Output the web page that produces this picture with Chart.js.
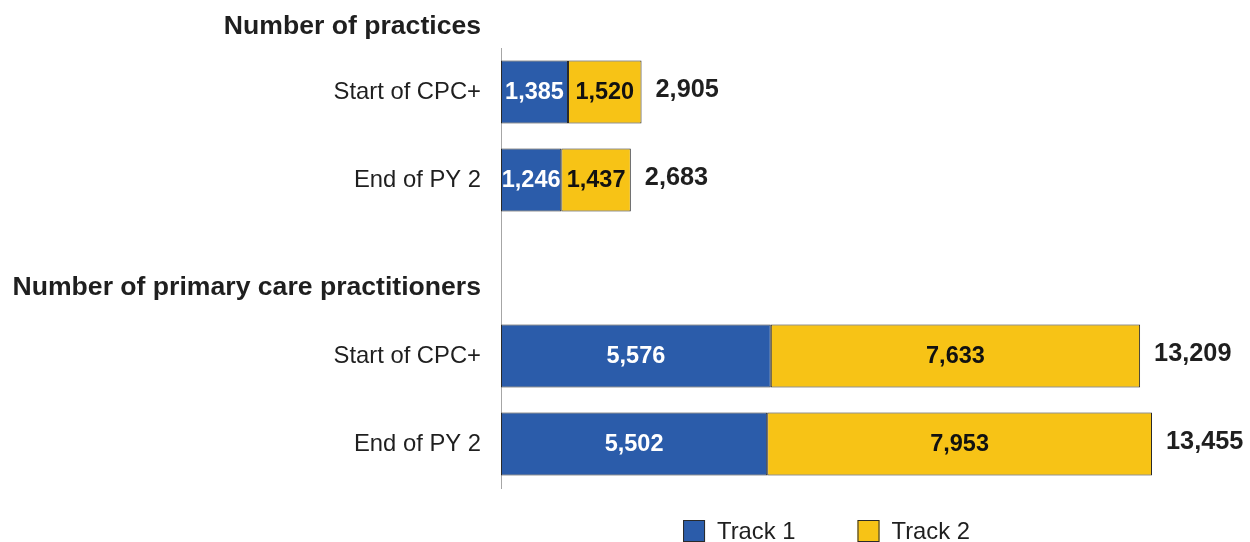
<!DOCTYPE html>
<html>
<head>
<meta charset="utf-8">
<script src="https://cdn.jsdelivr.net/npm/chart.js@4"></script>
<style>
  html, body { margin: 0; padding: 0; background: #ffffff; overflow: hidden; }
  #wrap { width: 1250px; height: 542px; position: relative; }
</style>
</head>
<body>
<div id="wrap"><canvas id="c"></canvas></div>
<script>
// ---- data ----
const categories = ['Start of CPC+', 'End of PY 2', '', 'Start of CPC+', 'End of PY 2'];
const groupHeaders = ['Number of practices', 'Number of primary care practitioners'];
const track1 = [1385, 1246, null, 5576, 5502];
const track2 = [1520, 1437, null, 7633, 7953];
const seriesNames = ['Track 1', 'Track 2'];

// ---- styles ----
const FONT = '"Liberation Sans", Arial, Helvetica, sans-serif';
const BLUE = '#2b5caa';
const YELLOW = '#f7c316';
const EDGE = '#2a2a2a';
const TEXT = '#1f1f1f';

const totals = track1.map((v, i) => (v == null ? null : v + track2[i]));
const maxTotal = Math.max(...totals.filter(v => v != null));
const fmt = v => v.toLocaleString('en-US');

const overlay = {
  id: 'overlay',
  afterDatasetsDraw(chart) {
    const ctx = chart.ctx;
    const area = chart.chartArea;
    const y = chart.scales.y;
    ctx.save();
    // segment labels
    chart.data.datasets.forEach((ds, di) => {
      const meta = chart.getDatasetMeta(di);
      meta.data.forEach((bar, i) => {
        const v = ds.data[i];
        if (v == null) return;
        ctx.font = 'bold 23.5px ' + FONT;
        ctx.fillStyle = di === 0 ? '#ffffff' : '#111111';
        ctx.textAlign = 'center';
        ctx.textBaseline = 'middle';
        ctx.fillText(fmt(v), (bar.x + bar.base) / 2, bar.y + 1);
      });
    });
    // totals
    const lastMeta = chart.getDatasetMeta(chart.data.datasets.length - 1);
    lastMeta.data.forEach((bar, i) => {
      if (totals[i] == null) return;
      ctx.font = 'bold 25.3px ' + FONT;
      ctx.fillStyle = TEXT;
      ctx.textAlign = 'left';
      ctx.textBaseline = 'middle';
      ctx.fillText(fmt(totals[i]), bar.x + 14, bar.y - 2);
    });
    // group headers
    const step = y.getPixelForValue(1) - y.getPixelForValue(0);
    ctx.font = 'bold 26.6px ' + FONT;
    ctx.fillStyle = TEXT;
    ctx.textAlign = 'right';
    ctx.textBaseline = 'middle';
    ctx.fillText(groupHeaders[0], area.left - 20, y.getPixelForValue(0) - 0.74 * step);
    ctx.fillText(groupHeaders[1], area.left - 20, y.getPixelForValue(2) + 0.22 * step);
    // legend
    ctx.font = '23.8px ' + FONT;
    const box = 22, gapBT = 12, gapItems = 62;
    const widths = seriesNames.map(n => box + gapBT + ctx.measureText(n).width);
    const total = widths.reduce((a, b) => a + b, 0) + gapItems * (seriesNames.length - 1);
    let x = (area.left + area.right) / 2 - total / 2;
    const cy = area.bottom + 43;
    seriesNames.forEach((n, i) => {
      ctx.fillStyle = chart.data.datasets[i].backgroundColor;
      ctx.fillRect(x, cy - box / 2, box, box);
      ctx.strokeStyle = EDGE;
      ctx.lineWidth = 1;
      ctx.strokeRect(x + 0.5, cy - box / 2 + 0.5, box - 1, box - 1);
      ctx.fillStyle = TEXT;
      ctx.textAlign = 'left';
      ctx.textBaseline = 'middle';
      ctx.fillText(n, x + box + gapBT, cy + 1);
      x += widths[i] + gapItems;
    });
    ctx.restore();
  }
};

new Chart(document.getElementById('c'), {
  type: 'bar',
  data: {
    labels: categories,
    datasets: [
      { label: seriesNames[0], data: track1, backgroundColor: BLUE, borderColor: EDGE, borderWidth: 1, borderSkipped: false },
      { label: seriesNames[1], data: track2, backgroundColor: YELLOW, borderColor: EDGE, borderWidth: 1, borderSkipped: false }
    ]
  },
  options: {
    indexAxis: 'y',
    responsive: true,
    maintainAspectRatio: false,
    animation: false,
    barPercentage: 0.716,
    categoryPercentage: 1,
    layout: { padding: { top: 48, bottom: 54, left: 0, right: 98 } },
    plugins: { legend: { display: false }, tooltip: { enabled: false } },
    scales: {
      x: { stacked: true, display: false, min: 0, max: maxTotal },
      y: {
        stacked: true,
        afterFit(scale) { scale.width = 501; },
        grid: { display: false, drawTicks: false },
        border: { display: true, color: '#a6a6a6', width: 1 },
        ticks: { padding: 20, color: TEXT, font: { family: FONT, size: 23.8 } }
      }
    }
  },
  plugins: [overlay]
});
</script>
</body>
</html>
